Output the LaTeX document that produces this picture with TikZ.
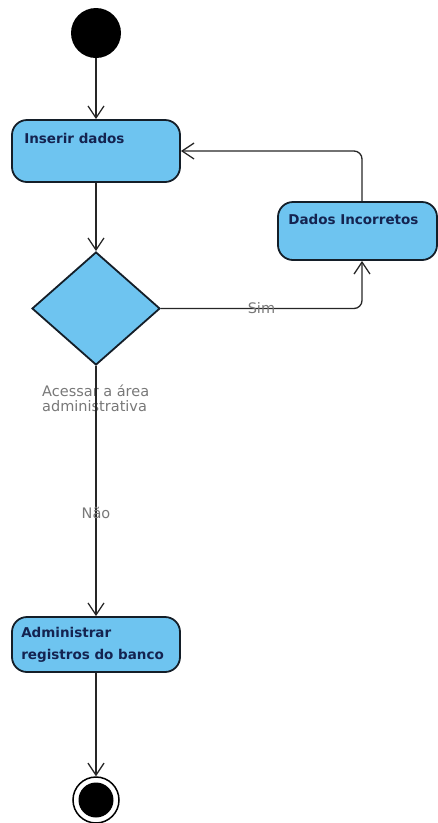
\documentclass[tikz,border=0pt]{standalone}
\usepackage{fontspec}
\setmainfont{DejaVu Sans}
\usetikzlibrary{arrows.meta,shapes.geometric}
\definecolor{actfill}{RGB}{110,196,240}
\definecolor{actdraw}{RGB}{20,30,40}
\definecolor{acttext}{RGB}{20,35,80}
\definecolor{lblgrey}{RGB}{120,120,120}
\tikzset{
  act/.style={draw=actdraw, line width=1.8pt, fill=actfill, rounded corners=15pt, rectangle, inner sep=0pt},
  acttxt/.style={font=\fontsize{13.5}{22}\selectfont\bfseries, text=acttext, align=left, inner sep=0pt, anchor=north west},
  flow/.style={draw=black!85, line width=1.3pt, -{Straight Barb[length=12pt,width=16pt,line width=1.3pt]}},
  lbl/.style={font=\fontsize{14.5}{15}\selectfont, text=lblgrey, inner sep=0pt},
}
\begin{document}
\begin{tikzpicture}[x=1pt,y=-1pt]
\useasboundingbox (0,0) rectangle (438,823);
% start
\node[circle, fill=black, minimum size=50pt, inner sep=0pt] (start) at (96,33) {};
% Inserir dados
\node[act, minimum width=168pt, minimum height=62pt] (ins) at (96,151) {};
\node[acttxt] (instxt) at ([xshift=13pt,yshift=-14pt]ins.north west) {Inserir dados};
% decision
\node[diamond, draw=actdraw, line width=1.8pt, fill=actfill, inner sep=0pt, minimum width=128pt, minimum height=113pt] (dec) at (96,308.5) {};
\node[lbl, anchor=north west, align=left] (declbl) at (42,385) {Acessar a área\\administrativa};
% Dados incorretos
\node[act, minimum width=159pt, minimum height=58pt] (dados) at (357.5,231) {};
\node[acttxt] (dadostxt) at ([xshift=11pt,yshift=-13pt]dados.north west) {Dados Incorretos};
% Administrar
\node[act, minimum width=168pt, minimum height=55pt] (adm) at (96,644.5) {};
\node[acttxt] (admtxt) at ([xshift=10pt,yshift=-11pt]adm.north west) {Administrar\\registros do banco};
% end
\node[circle, draw=black, line width=1.5pt, fill=white, minimum size=46pt, inner sep=0pt,
  path picture={\fill[black] (path picture bounding box.center) circle (17.5pt);}] (end) at (96,800) {};
% connectors
\coordinate (dbot) at ([xshift=4.5pt]dados.south);
\coordinate (dtop) at ([xshift=4.5pt]dados.north);
\draw[flow] (start) -- (ins);
\draw[flow] (ins) -- (dec.north);
\draw[flow, rounded corners=8pt] (dec.east) -| node[lbl, pos=0.25] {Sim} (dbot);
\draw[flow, rounded corners=8pt] (dtop) |- (ins.east);
\draw[flow] (dec.south) -- node[lbl, pos=0.587] {Não} (adm.north);
\draw[flow] (adm) -- (end);
\end{tikzpicture}
\end{document}
